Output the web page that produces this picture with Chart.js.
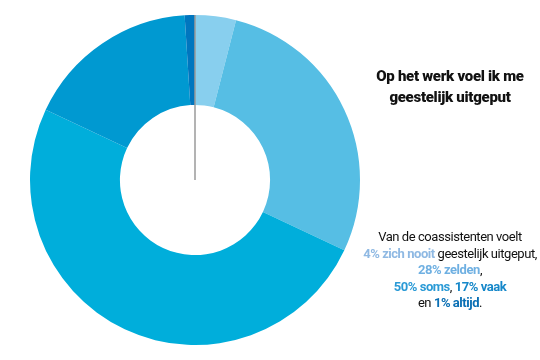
<!DOCTYPE html>
<html>
<head>
<meta charset="utf-8">
<script src="https://cdn.jsdelivr.net/npm/chart.js@4"></script>
<style>
  html, body { margin: 0; padding: 0; background: #fff; }
  #wrap { position: relative; width: 540px; height: 360px; overflow: hidden; }
  #chartBox { position: absolute; left: 0; top: 0; width: 390px; height: 360px; }
  .title { position: absolute; left: 360px; width: 180px; top: 66px; text-align: center;
    font-family: Roboto, "Noto Sans", sans-serif; font-weight: 900; font-size: 15px; line-height: 21px; color: #111; letter-spacing: -0.3px; }
  .body { position: absolute; left: 355px; width: 190px; top: 229px; text-align: center;
    font-family: Roboto, "Noto Sans", sans-serif; font-weight: 400; font-size: 13px; line-height: 16.5px; color: #111; letter-spacing: -0.45px; }
  .body b { font-weight: 700; }
</style>
</head>
<body>
<div id="wrap">
  <div id="chartBox"><canvas id="c"></canvas></div>
  <div class="title">Op het werk voel ik me<br>geestelijk uitgeput</div>
  <div class="body">
    Van de coassistenten voelt<br>
    <b style="color:#8fb9e3">4% zich nooit</b> geestelijk uitgeput,<br>
    <b style="color:#6fb0e2">28% zelden</b>,<br>
    <b style="color:#2a9ad6">50% soms</b>, <b style="color:#1587c9">17% vaak</b><br>
    en <b style="color:#0a6fb4">1% altijd</b>.
  </div>
</div>
<script>
const categories = ["nooit", "zelden", "soms", "vaak", "altijd"];
const values = [4, 28, 50, 17, 1];
const colors = ["#88cfee", "#56bee4", "#00aedb", "#0099d1", "#0076bf"];

const centerLine = {
  id: 'centerLine',
  afterDatasetsDraw(chart) {
    const arc = chart.getDatasetMeta(0).data[0];
    if (!arc) return;
    const ctx = chart.ctx;
    ctx.save();
    ctx.strokeStyle = '#9a9a9a';
    ctx.lineWidth = 1.5;
    ctx.beginPath();
    ctx.moveTo(arc.x, arc.y);
    ctx.lineTo(arc.x, arc.y - arc.outerRadius);
    ctx.stroke();
    ctx.restore();
  }
};

new Chart(document.getElementById('c'), {
  type: 'doughnut',
  data: {
    labels: categories,
    datasets: [{
      data: values,
      backgroundColor: colors,
      borderWidth: 0
    }]
  },
  options: {
    responsive: true,
    maintainAspectRatio: false,
    animation: false,
    cutout: '45.5%',
    layout: { padding: 15 },
    plugins: { legend: { display: false }, tooltip: { enabled: false } }
  },
  plugins: [centerLine]
});
</script>
</body>
</html>
